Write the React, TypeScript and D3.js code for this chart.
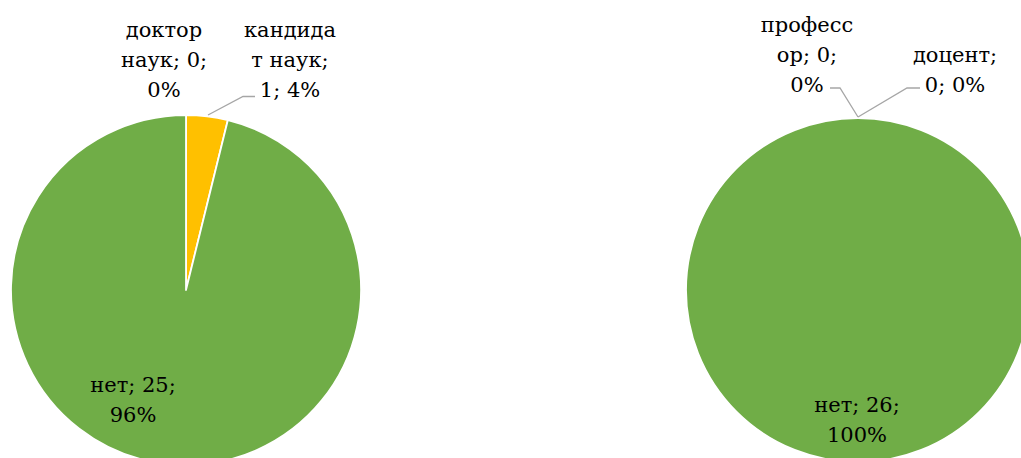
import React from "react";
import * as d3 from "d3";

const leftCategories = ["доктор наук", "кандидат наук", "нет"];
const leftValues = [0, 1, 25];
const leftPercents = ["0%", "4%", "96%"];

const rightCategories = ["профессор", "доцент", "нет"];
const rightValues = [0, 0, 26];
const rightPercents = ["0%", "0%", "100%"];

const leftColors = ["#4472C4", "#FFC000", "#70AD47"];
const rightColors = ["#4472C4", "#ED7D31", "#70AD47"];

// label text as wrapped in the reference (lines)
const leftLabelLines = [
  ["доктор", "наук; 0;", "0%"],
  ["кандида", "т наук;", "1; 4%"],
  ["нет; 25;", "96%"],
];
const rightLabelLines = [
  ["професс", "ор; 0;", "0%"],
  ["доцент;", "0; 0%"],
  ["нет; 26;", "100%"],
];

type LabelPos = { x: number; y: number; leader?: [number, number][] };

const W = 1021;
const H = 458;
const FONT = "DejaVu Serif";
const FS = 21;
const LH = 30;

function Pie({
  cx,
  cy,
  r,
  values,
  colors,
  lines,
  labels,
}: {
  cx: number;
  cy: number;
  r: number;
  values: number[];
  colors: string[];
  lines: string[][];
  labels: LabelPos[];
}) {
  const pie = d3.pie<number>().sort(null).value((d) => d)(values);
  const arc = d3.arc<d3.PieArcDatum<number>>().innerRadius(0).outerRadius(r);
  return (
    <g>
      <g transform={`translate(${cx},${cy})`}>
        {pie.map((p, i) => (
          <path
            key={i}
            d={arc(p) || ""}
            fill={colors[i]}
            stroke="#fff"
            strokeWidth={1.8}
            strokeLinejoin="round"
          />
        ))}
      </g>
      {labels.map((lp, i) =>
        lp.leader ? (
          <polyline
            key={"l" + i}
            points={lp.leader.map((q) => q.join(",")).join(" ")}
            fill="none"
            stroke="#A6A6A6"
            strokeWidth={1.3}
          />
        ) : null
      )}
      {labels.map((lp, i) =>
        lines[i].map((ln, j) => (
          <text
            key={"t" + i + "_" + j}
            x={lp.x}
            y={lp.y + j * LH}
            textAnchor="middle"
            style={{ fontFamily: FONT, fontSize: FS }}
            fill="#000"
          >
            {ln}
          </text>
        ))
      )}
    </g>
  );
}

export default function App() {
  const leftLabels: LabelPos[] = [
    { x: 164, y: 37 },
    { x: 290, y: 37, leader: [[255, 96.5], [243, 96.5], [208, 115]] },
    { x: 133, y: 392 },
  ];
  const rightLabels: LabelPos[] = [
    { x: 807, y: 32, leader: [[830, 88], [840, 88], [858, 117]] },
    { x: 955, y: 62, leader: [[920, 88], [907, 88], [858, 117]] },
    { x: 857, y: 412 },
  ];
  return (
    <svg
      width={W}
      height={H}
      style={{ display: "block", position: "absolute", left: 0, top: 0, background: "#fff" }}
    >
      <rect width={W} height={H} fill="#fff" />
      <Pie
        cx={186}
        cy={290}
        r={175}
        values={leftValues}
        colors={leftColors}
        lines={leftLabelLines}
        labels={leftLabels}
      />
      <Pie
        cx={858}
        cy={290}
        r={172}
        values={rightValues}
        colors={rightColors}
        lines={rightLabelLines}
        labels={rightLabels}
      />
    </svg>
  );
}
